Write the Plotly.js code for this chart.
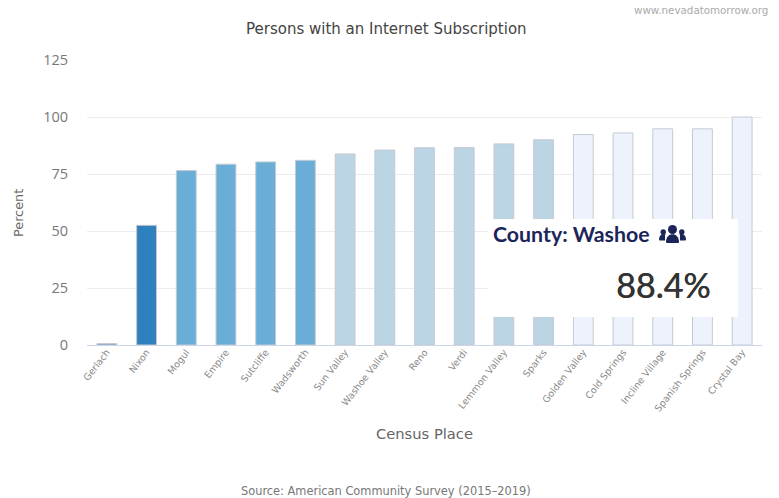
<!DOCTYPE html>
<html>
<head>
<meta charset="utf-8">
<script src="https://cdn.plot.ly/plotly-3.0.1.min.js"></script>
<style>html,body{margin:0;padding:0;background:#fff}#chart{width:779px;height:498px}</style>
</head>
<body>
<div id="chart"></div>
<script>
const places = ["Gerlach","Nixon","Mogul","Empire","Sutcliffe","Wadsworth","Sun Valley","Washoe Valley","Reno","Verdi","Lemmon Valley","Sparks","Golden Valley","Cold Springs","Incline Village","Spanish Springs","Crystal Bay"];
const percent = [0.6,52.5,76.5,79.3,80.3,81,83.8,85.5,86.5,86.6,88.2,90,92.3,93,94.8,94.8,100];
const barColors = ["#5F8FB5","#2E80BE","#6AAED8","#6AAED8","#6AAED8","#6AAED8","#BBD5E5","#BBD5E5","#BBD5E5","#BBD5E5","#BBD5E5","#BBD5E5","#EDF2FD","#EDF2FD","#EDF2FD","#EDF2FD","#EDF2FD"];
const yTicks = [0,25,50,75,100,125];
const W = 779, H = 498;
const F = "DejaVu Sans, sans-serif";
const NAVY = "#1B2559";
// page pixel -> paper fraction (plot area spans x 87..762, y 60..345)
const px = x => (x - 87) / 675;
const py = y => (345 - y) / 285;
const head = (cx, cy, r) => ({
  type: "circle", xref: "paper", yref: "paper", layer: "above", fillcolor: NAVY, line: {width: 0},
  x0: px(cx - r), x1: px(cx + r), y0: py(cy + r), y1: py(cy - r)
});
const body = (x0, x1, top, bot) => ({
  type: "path", xref: "paper", yref: "paper", layer: "above", fillcolor: NAVY, line: {width: 0},
  path: `M${px(x0)},${py(bot - 1)} C${px(x0)},${py(top)} ${px(x1)},${py(top)} ${px(x1)},${py(bot - 1)} Q${px(x1)},${py(bot)} ${px(x1 - 1)},${py(bot)} L${px(x0 + 1)},${py(bot)} Q${px(x0)},${py(bot)} ${px(x0)},${py(bot - 1)} Z`
});
Plotly.newPlot("chart", [{
  type: "bar",
  x: places,
  y: percent,
  width: 0.5,
  marker: {color: barColors, line: {color: "#C4CAD0", width: 1}},
  hoverinfo: "x+y"
}], {
  width: W, height: H,
  paper_bgcolor: "#fff", plot_bgcolor: "#fff",
  margin: {l: 87, r: 17, t: 60, b: 153, pad: 0},
  showlegend: false,
  font: {family: F},
  xaxis: {
    type: "category", range: [-0.5, 16.5], tickangle: -52, automargin: false,
    tickfont: {size: 9.5, color: "#8A8A8A", family: F},
    showgrid: false, zeroline: false, showline: true, linecolor: "#CCD6EB", linewidth: 1,
    ticks: "", ticklen: 0, ticklabelstandoff: -3
  },
  yaxis: {
    range: [0, 125], tickvals: yTicks, ticktext: yTicks.map(String), automargin: false,
    tickfont: {size: 14.5, color: "#777", family: "Open Sans, sans-serif"},
    gridcolor: "#ECECEC", gridwidth: 1, zeroline: false, showline: false, ticks: "", ticklabelstandoff: 18
  },
  shapes: [
    {type: "rect", xref: "paper", yref: "paper", layer: "above", line: {width: 0}, fillcolor: "#fff",
     x0: px(488), x1: px(738), y0: py(317), y1: py(219)},
    head(672.5, 229.5, 4.5),
    head(663.2, 232, 2.7),
    head(681.8, 232, 2.7),
    body(659, 668, 232, 240.5),
    body(677, 686, 232, 240.5),
    {type: "rect", xref: "paper", yref: "paper", layer: "above", line: {width: 0}, fillcolor: "#fff",
     x0: px(665), x1: px(680), y0: py(244), y1: py(234.6)},
    body(666, 679, 231.5, 243)
  ],
  annotations: [
    {text: "Persons with an Internet Subscription", xref: "paper", yref: "paper", x: px(386), y: py(29), xanchor: "center", yanchor: "middle", showarrow: false, font: {size: 15, color: "#444", family: F}},
    {text: "www.nevadatomorrow.org", xref: "paper", yref: "paper", x: px(770), y: py(10), xanchor: "right", yanchor: "middle", showarrow: false, font: {size: 10.3, color: "#AAAAAA", family: F}},
    {text: "Percent", xref: "paper", yref: "paper", x: px(18), y: py(213), xanchor: "center", yanchor: "middle", textangle: -90, showarrow: false, font: {size: 12.8, color: "#666", family: F}},
    {text: "Census Place", xref: "paper", yref: "paper", x: px(424), y: py(433), xanchor: "center", yanchor: "middle", showarrow: false, font: {size: 14.7, color: "#666", family: F}},
    {text: "Source: American Community Survey (2015\u20132019)", xref: "paper", yref: "paper", x: px(386), y: py(491), xanchor: "center", yanchor: "middle", showarrow: false, font: {size: 11.4, color: "#777", family: F}},
    {text: "<b>County: Washoe</b>", xref: "paper", yref: "paper", x: px(491), y: py(234), xanchor: "left", yanchor: "middle", showarrow: false, font: {size: 21.3, color: NAVY, family: "Lato, sans-serif"}},
    {text: "88.4%", xref: "paper", yref: "paper", x: px(712), y: py(284), xanchor: "right", yanchor: "middle", showarrow: false, font: {size: 34, color: "#333", family: "Lato, sans-serif", shadow: "0.6px 0 0 #333"}}
  ]
}, {displayModeBar: false, staticPlot: true});
</script>
</body>
</html>
